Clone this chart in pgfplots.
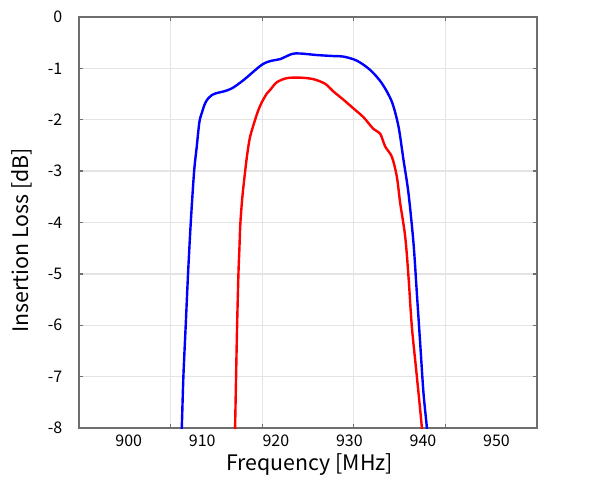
\documentclass[border=0pt]{standalone}
\usepackage{fontspec}
\setmainfont{Noto Sans CJK JP}
\usepackage{pgfplots}
\pgfplotsset{compat=1.18}
\definecolor{axgray}{RGB}{110,110,110}
\definecolor{gridgray}{RGB}{228,228,228}
\begin{document}
\begin{tikzpicture}
\useasboundingbox (-59.25pt,-39pt) rectangle (390.75pt,321pt);
\begin{axis}[
  at={(0,0)}, anchor=south west,
  scale only axis, width=343.5pt, height=308.25pt,
  xmin=893.24, xmax=955.5, ymin=-8, ymax=0,
  axis line style={axgray, line width=1.3pt},
  xtick={905.69,918.14,930.59,943.04},
  xticklabels={},
  ytick={0,-1,-2,-3,-4,-5,-6,-7,-8},
  yticklabels={0,-1,-2,-3,-4,-5,-6,-7,-8},
  grid=major,
  major grid style={gridgray, line width=1pt},
  tick style={axgray, line width=1pt},
  major tick length=3pt,
  tick align=inside,
  xtick pos=both, ytick pos=both,
  extra x ticks={900,910,920,930,940,950},
  extra x tick labels={900,910,920,930,940,950},
  extra x tick style={grid=none, major tick length=0pt, xtick pos=bottom},
  ticklabel style={font=\fontsize{12}{14}\selectfont, black},
  xticklabel style={yshift=-2pt},
  yticklabel style={xshift=-9pt},
  xlabel={Frequency [MHz]},
  ylabel={Insertion Loss [dB]},
  label style={font=\fontsize{16}{19}\selectfont, black},
  xlabel style={at={(axis description cs:0.504,-0.09)}, anchor=center},
  ylabel style={at={(axis description cs:-0.1245,0.457)}, anchor=center},
  clip=true,
]
\addplot[blue, line width=1.8pt, smooth, tension=0.5] coordinates {
(907.05,-8.4) (907.21,-8.0) (907.43,-7.00) (907.75,-5.99) (908.07,-4.98)
(908.43,-4.01) (908.88,-3.02) (909.25,-2.52) (909.60,-2.05) (909.93,-1.87)
(910.38,-1.68) (910.83,-1.58) (911.29,-1.52) (911.97,-1.48) (912.87,-1.45)
(914.01,-1.39) (915.59,-1.23) (918.09,-0.93) (919.45,-0.85)
(920.58,-0.82) (922.17,-0.72) (923.30,-0.71) (925.57,-0.74) (927.83,-0.76)
(929.19,-0.77) (931.01,-0.85) (932.82,-1.03) (934.41,-1.29) (935.77,-1.65)
(936.67,-2.13) (937.35,-2.78) (938.03,-3.43) (938.71,-4.40) (939.17,-5.38)
(939.62,-6.35) (940.07,-7.32) (940.53,-8.00) (940.65,-8.4)
};
\addplot[red, line width=1.8pt, smooth, tension=0.5] coordinates {
(914.42,-8.4) (914.46,-8.0) (914.59,-7.03) (914.73,-6.03) (914.91,-5.02)
(915.04,-4.53) (915.18,-4.01) (915.45,-3.50) (915.82,-3.01) (916.13,-2.65)
(916.50,-2.33) (917.18,-2.00) (917.63,-1.81) (918.09,-1.66)
(918.77,-1.49) (919.22,-1.42) (920.13,-1.27) (921.49,-1.19) (923.30,-1.18)
(925.11,-1.21) (926.70,-1.30) (927.83,-1.45) (929.19,-1.61) (930.55,-1.78)
(931.91,-1.95) (933.27,-2.18) (934.18,-2.27) (934.86,-2.52) (935.77,-2.72)
(936.45,-3.11) (936.90,-3.62) (937.58,-4.27) (938.03,-5.05) (938.49,-6.03)
(939.17,-7.00) (939.85,-8.00) (939.95,-8.4)
};
\end{axis}
\end{tikzpicture}
\end{document}
